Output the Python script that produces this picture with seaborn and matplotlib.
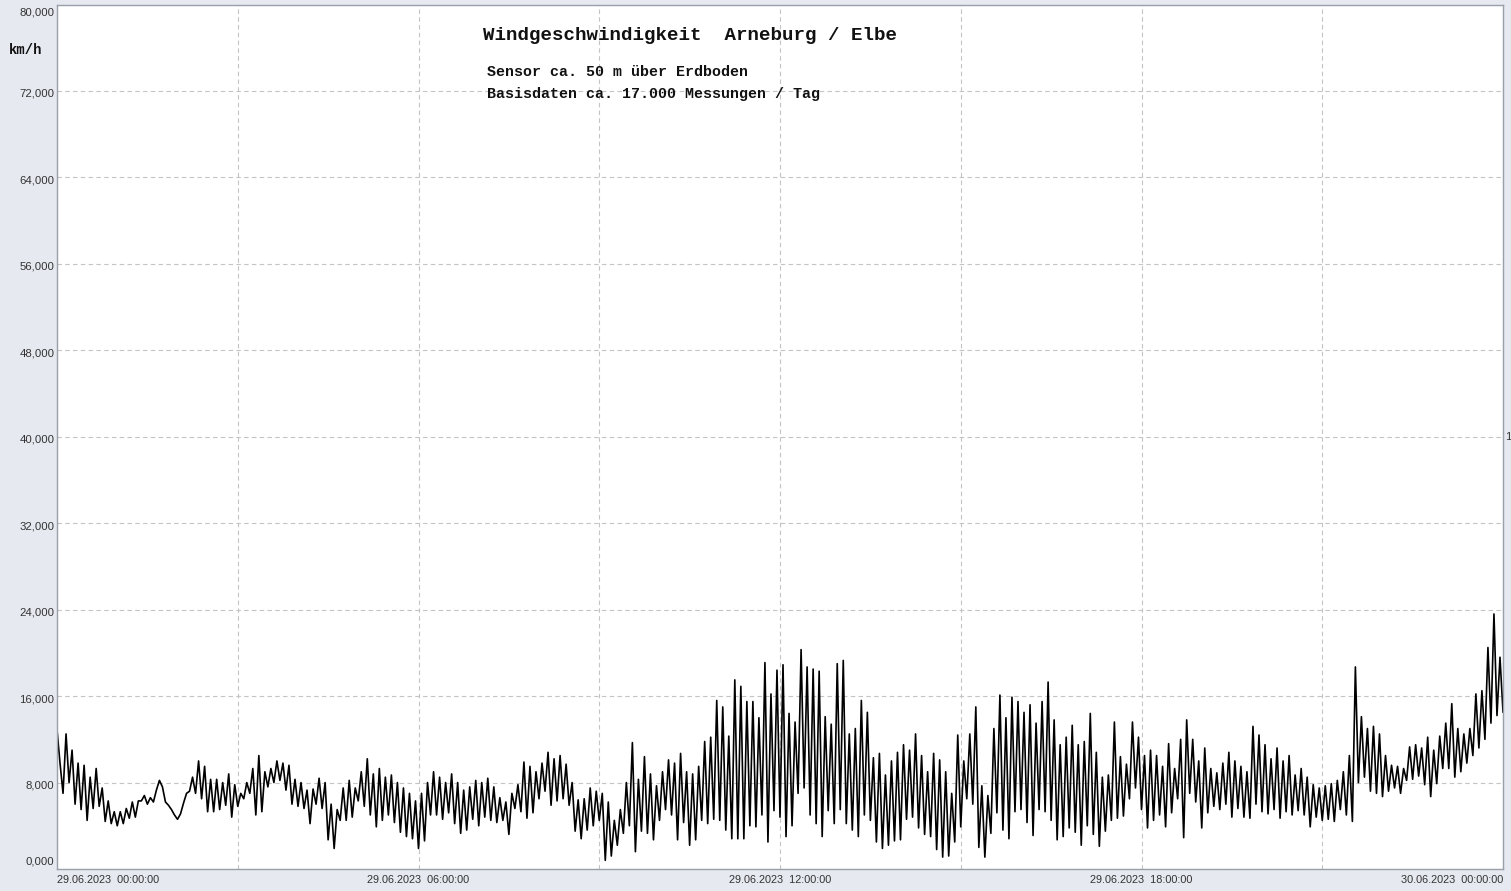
import numpy as np
import pandas as pd
import seaborn as sns
import matplotlib.pyplot as plt
import matplotlib.dates as mdates
import matplotlib.transforms as mtransforms
from matplotlib.ticker import MultipleLocator

# --- data: wind speed (km/h), one reading at the start and
# one at the middle of every 6-minute slot, 29.06.2023 00:00 -> 24:00 ---
start_time = pd.Timestamp("2023-06-29 00:00")
speed_start = [
    12.9, 7.0, 8.0, 6.0, 5.5, 4.5, 5.6, 5.8, 4.4, 4.2,
    4.0, 4.2, 4.7, 4.8, 6.3, 6.0, 6.2, 8.2, 6.2, 5.5,
    4.6, 6.1, 7.2, 7.0, 6.5, 5.3, 5.3, 5.5, 5.9, 4.8,
    5.8, 6.5, 7.0, 5.0, 5.3, 7.6, 8.0, 8.2, 7.3, 6.0,
    5.8, 5.6, 4.2, 6.0, 5.6, 2.7, 1.9, 4.5, 4.5, 4.8,
    6.3, 5.8, 5.0, 3.9, 4.5, 5.0, 4.3, 3.4, 3.0, 2.8,
    1.9, 2.6, 5.0, 5.0, 4.6, 5.2, 4.2, 3.3, 3.6, 4.6,
    4.0, 4.8, 4.5, 4.3, 4.5, 3.2, 5.6, 5.3, 4.7, 5.2,
    6.5, 7.2, 5.9, 6.3, 6.5, 5.9, 3.5, 2.8, 3.6, 4.0,
    4.5, 0.8, 1.2, 2.2, 3.3, 4.0, 1.6, 3.5, 3.3, 2.7,
    4.5, 5.5, 5.0, 2.7, 4.3, 2.2, 2.7, 4.5, 4.2, 4.6,
    4.5, 3.6, 2.8, 2.8, 2.8, 4.0, 3.9, 5.0, 2.5, 5.4,
    4.8, 3.0, 4.0, 7.0, 7.5, 5.0, 4.2, 3.0, 5.4, 4.2,
    5.5, 4.2, 3.6, 3.0, 5.0, 4.5, 2.5, 1.9, 2.2, 2.6,
    2.7, 4.6, 4.8, 3.8, 3.2, 3.0, 1.8, 1.1, 1.2, 2.5,
    3.9, 6.5, 6.0, 2.0, 1.1, 3.3, 5.2, 3.6, 2.8, 5.3,
    5.5, 4.3, 3.1, 5.5, 5.3, 4.5, 2.7, 3.0, 3.8, 3.4,
    2.2, 4.0, 3.2, 2.1, 3.5, 4.5, 4.7, 4.9, 6.5, 7.5,
    5.5, 3.8, 4.5, 5.0, 3.9, 5.2, 6.5, 2.9, 7.0, 6.2,
    3.8, 5.2, 5.8, 5.5, 6.0, 4.8, 5.6, 4.8, 4.7, 6.0,
    5.3, 5.1, 5.5, 4.7, 5.3, 5.0, 5.4, 5.0, 3.9, 4.8,
    4.5, 4.6, 4.4, 5.5, 5.0, 4.4, 8.0, 8.5, 7.2, 7.0,
    6.7, 7.2, 7.5, 7.0, 8.2, 8.3, 8.6, 7.8, 6.7, 7.9,
    9.3, 9.3, 8.5, 9.0, 9.8, 10.5, 11.2, 12.0, 13.5, 14.2,
]
speed_mid = [
    9.8, 12.5, 11.0, 9.8, 9.6, 8.5, 9.3, 7.5, 6.3, 5.3,
    5.3, 5.6, 6.2, 6.3, 6.8, 6.6, 7.3, 7.6, 5.9, 5.0,
    5.1, 7.0, 8.5, 10.0, 9.5, 8.3, 8.3, 8.0, 8.8, 7.8,
    7.0, 8.0, 9.3, 10.5, 9.0, 9.3, 10.0, 9.8, 9.6, 8.3,
    8.0, 7.3, 7.4, 8.4, 8.0, 6.0, 5.5, 7.5, 8.2, 7.5,
    9.0, 10.2, 8.8, 9.3, 8.5, 8.7, 8.0, 7.5, 7.0, 6.3,
    7.0, 8.0, 9.0, 8.5, 8.0, 8.8, 8.0, 7.3, 7.6, 8.2,
    8.0, 8.4, 7.6, 6.6, 6.2, 7.0, 7.8, 9.9, 9.5, 9.0,
    9.8, 10.8, 10.2, 10.5, 9.7, 8.0, 6.4, 6.5, 7.5, 7.2,
    7.0, 6.2, 4.5, 5.5, 8.0, 11.7, 8.3, 10.4, 8.8, 7.7,
    9.0, 10.1, 9.8, 10.7, 9.0, 8.8, 9.5, 11.8, 12.2, 15.6,
    15.0, 12.3, 17.5, 16.9, 15.5, 15.5, 14.0, 19.1, 16.2, 18.4,
    18.9, 14.4, 13.6, 20.3, 18.7, 18.5, 18.3, 14.1, 13.4, 19.0,
    19.3, 12.5, 13.0, 15.6, 14.5, 10.3, 10.7, 8.7, 10.0, 10.8,
    11.5, 11.0, 12.5, 10.5, 9.0, 10.7, 10.1, 9.0, 7.0, 12.4,
    10.0, 12.5, 15.0, 7.7, 6.8, 13.0, 16.1, 14.0, 15.9, 15.5,
    14.5, 15.2, 13.5, 15.5, 17.3, 13.8, 11.5, 12.2, 13.3, 11.5,
    11.8, 14.4, 10.8, 8.5, 8.7, 13.6, 10.4, 9.7, 13.6, 12.2,
    10.5, 11.0, 10.5, 9.5, 11.6, 9.3, 12.0, 13.8, 12.0, 10.0,
    11.2, 9.3, 8.9, 9.8, 10.8, 10.0, 9.5, 9.0, 13.2, 12.4,
    11.5, 10.2, 11.2, 10.0, 10.5, 8.7, 9.3, 8.5, 7.8, 7.5,
    7.7, 7.9, 8.2, 9.0, 10.5, 18.7, 14.1, 13.0, 13.2, 12.5,
    10.5, 9.6, 9.5, 9.3, 11.3, 11.5, 11.2, 12.2, 11.0, 12.3,
    13.5, 15.3, 13.0, 12.5, 13.0, 16.2, 16.5, 20.5, 23.6, 19.6,
]
speed_end = 14.5

y_ticks = [0, 8, 16, 24, 32, 40, 48, 56, 64, 72, 80]
title = "Windgeschwindigkeit  Arneburg / Elbe"
subtitle_1 = "Sensor ca. 50 m über Erdboden"
subtitle_2 = "Basisdaten ca. 17.000 Messungen / Tag"
unit = "km/h"

BG = "#E6E9F0"
W, H = 1511, 891

# interleave the two readings into one time series (3-minute steps)
values = np.empty(2 * len(speed_start) + 1)
values[0:-1:2] = speed_start
values[1:-1:2] = speed_mid
values[-1] = speed_end
times = pd.date_range(start_time, periods=len(values), freq="3min")
df = pd.DataFrame({"Zeit": times, "km/h": values})

sns.set_style("white")
plt.rcParams["font.family"] = ["Liberation Sans", "DejaVu Sans"]

fig = plt.figure(figsize=(W / 100, H / 100), dpi=100, facecolor=BG)
ax = fig.add_axes([57 / W, 1 - 869 / H, (1503 - 57) / W, (869 - 4.5) / H])
ax.set_facecolor("white")

sns.lineplot(data=df, x="Zeit", y="km/h", ax=ax, color="black",
             linewidth=1.2, estimator=None)

end_time = start_time + pd.Timedelta(hours=24)
ax.set_xlim(start_time, end_time)
ax.set_ylim(0, 80)
ax.set_xlabel("")
ax.set_ylabel("")

# x axis: grid every 3 h, labels every 6 h, small ticks every 45 min
major = pd.date_range(start_time, end_time, freq="3h")
ax.set_xticks(mdates.date2num(major))
ax.set_xticklabels([d.strftime("%d.%m.%Y  %H:%M:%S") if i % 2 == 0 else ""
                    for i, d in enumerate(major)])
minor = pd.date_range(start_time, end_time, freq="45min")
ax.set_xticks(mdates.date2num(minor), minor=True)
xl = ax.get_xticklabels()
xl[0].set_ha("left")
xl[-1].set_ha("right")

# y axis
ax.set_yticks(y_ticks)
ax.set_yticklabels([f"{v:.3f}".replace(".", ",") for v in y_ticks])
ax.yaxis.set_minor_locator(MultipleLocator(2))

ax.tick_params(axis="both", which="both", direction="in", length=5,
               color="#9AA0AA", labelcolor="#333333")
ax.tick_params(axis="x", pad=4, labelsize=7.8)
ax.tick_params(axis="y", pad=2, labelsize=8.2)

for i, lbl in enumerate(ax.get_yticklabels()):
    lbl.set_va("center")
    if i == 0:
        dy = 7
    elif i == len(y_ticks) - 1:
        dy = -8
    else:
        dy = -3
    off = mtransforms.ScaledTranslation(0, dy / 100, fig.dpi_scale_trans)
    lbl.set_transform(lbl.get_transform() + off)

ax.grid(True, which="major", color="#C4C4C4", linewidth=0.8,
        linestyle=(0, (4, 3)))
for sp in ax.spines.values():
    sp.set_color("#9AA0AA")
    sp.set_linewidth(1.0)

# texts
fig.text(483 / W, 1 - 36 / H, title, family="Liberation Mono",
         weight="bold", size=13.8, va="center", color="#111111")
fig.text(487 / W, 1 - 72 / H, subtitle_1, family="Liberation Mono",
         weight="bold", size=10.8, va="center", color="#111111")
fig.text(487 / W, 1 - 94 / H, subtitle_2, family="Liberation Mono",
         weight="bold", size=10.8, va="center", color="#111111")
fig.text(9 / W, 1 - 50 / H, unit, family="Liberation Mono",
         weight="bold", size=10, va="center", color="#111111")
fig.text(1505 / W, 1 - 437 / H, "1", size=8, va="center", color="#333333")

fig.savefig("out.png", dpi=100, facecolor=BG)
